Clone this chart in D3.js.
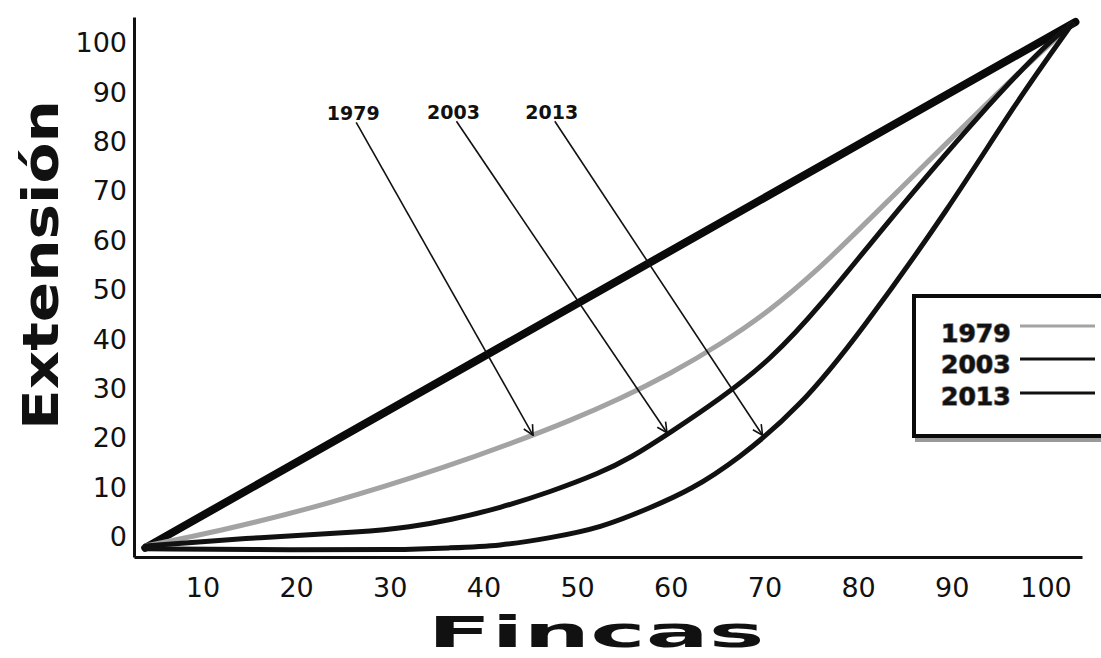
<!DOCTYPE html>
<html>
<head>
<meta charset="utf-8">
<script src="https://cdn.jsdelivr.net/npm/d3@7"></script>
<style>
  html, body { margin: 0; padding: 0; background: #fff; }
  svg { display: block; }
</style>
</head>
<body>
<div id="chart"></div>
<script>
// ---- data (axis units) ----
const xTicks = [10, 20, 30, 40, 50, 60, 70, 80, 90, 100];
const yTicks = [0, 10, 20, 30, 40, 50, 60, 70, 80, 90, 100];

const equalityX = [3.9, 103.2];
const equalityY = [-2.2, 104.3];

const x1979 = [3.9, 11.2, 23.6, 36.4, 43.9, 49.3, 54.6, 59.9, 65.3, 70.6, 75.9, 79.1, 89.8, 96.8, 102.8];
const y1979 = [-1.8, 0.9, 6.7, 14.4, 19.6, 23.6, 28.0, 33.0, 39.0, 45.8, 54.5, 60.4, 80.4, 93.5, 103.8];

const x2003 = [3.9, 16.5, 27.2, 32.2, 36.4, 41.8, 47.1, 52.5, 55.7, 59.9, 65.3, 70.6, 75.9, 82.7, 93.3, 100.5, 102.8];
const y2003 = [-1.8, 0.0, 1.0, 2.0, 3.4, 5.9, 9.1, 13.0, 16.0, 21.1, 28.0, 35.8, 46.6, 62.8, 86.4, 100.6, 103.8];

const x2013 = [3.9, 20.4, 31.1, 36.4, 41.8, 47.1, 52.5, 57.8, 62.1, 67.1, 73.8, 80.2, 89.8, 96.8, 102.8];
const y2013 = [-2.4, -2.6, -2.6, -2.2, -1.8, -0.2, 1.8, 5.9, 9.5, 15.6, 26.3, 41.3, 66.8, 87.9, 103.8];

const seriesNames = ["1979", "2003", "2013"];
const seriesColors = ["#a3a3a3", "#111111", "#111111"];

// annotation labels and arrow tips
const annLabels = ["1979", "2003", "2013"];
const annLabelX = [26.1, 36.8, 47.3];
const annLabelY = [85.8, 86.0, 86.0];
const annTipX = [45.3, 59.6, 69.8];
const annTipY = [20.6, 21.1, 20.6];

// ---- chart ----
const W = 1101, H = 658;
const svg = d3.select("#chart").append("svg").attr("width", W).attr("height", H);

const x = d3.scaleLinear().domain([2.7, 103.9]).range([134, 1082]);
const y = d3.scaleLinear().domain([-4.05, 105.3]).range([557, 17]);

const defs = svg.append("defs");
defs.append("marker")
  .attr("id", "arrow")
  .attr("viewBox", "0 0 12 12")
  .attr("refX", 11).attr("refY", 6)
  .attr("markerWidth", 12).attr("markerHeight", 12)
  .attr("markerUnits", "userSpaceOnUse")
  .attr("orient", "auto")
  .append("path")
  .attr("d", "M1,1 L11,6 L1,11")
  .attr("fill", "none").attr("stroke", "#111").attr("stroke-width", 1.6);

// axes
const xAxis = d3.axisBottom(x).tickValues(xTicks).tickSize(0).tickPadding(21);
const yAxis = d3.axisLeft(y).tickValues(yTicks).tickSize(0).tickPadding(7);

const gx = svg.append("g").attr("transform", `translate(0,${y.range()[0]})`).call(xAxis);
const gy = svg.append("g").attr("transform", `translate(${x.range()[0]},0)`).call(yAxis);
[gx, gy].forEach(g => {
  g.select(".domain").attr("stroke", "#111").attr("stroke-width", 3);
  g.selectAll("text")
    .attr("font-family", "DejaVu Sans, Verdana, sans-serif")
    .attr("font-size", 27)
    .attr("fill", "#111");
});

// lines
const line = d3.line().x(d => x(d[0])).y(d => y(d[1])).curve(d3.curveBasis);

svg.append("path")
  .datum(equalityX.map((v, i) => [v, equalityY[i]]))
  .attr("d", d3.line().x(d => x(d[0])).y(d => y(d[1])))
  .attr("fill", "none").attr("stroke", "#0a0a0a").attr("stroke-width", 8)
  .attr("stroke-linecap", "round");

const seriesX = [x1979, x2003, x2013];
const seriesY = [y1979, y2003, y2013];
seriesNames.forEach((name, k) => {
  svg.append("path")
    .datum(seriesX[k].map((v, i) => [v, seriesY[k][i]]))
    .attr("d", line)
    .attr("fill", "none")
    .attr("stroke", seriesColors[k])
    .attr("stroke-width", 5)
    .attr("stroke-linecap", "round");
});

// annotations
annLabels.forEach((lab, i) => {
  svg.append("text")
    .attr("x", x(annLabelX[i])).attr("y", y(annLabelY[i]) + 7)
    .attr("text-anchor", "middle")
    .attr("font-family", "DejaVu Sans, Verdana, sans-serif")
    .attr("font-weight", "bold")
    .attr("font-size", 19)
    .attr("fill", "#111")
    .text(lab);
  svg.append("line")
    .attr("x1", x(annLabelX[i]) + 3).attr("y1", y(annLabelY[i]) + 9)
    .attr("x2", x(annTipX[i])).attr("y2", y(annTipY[i]))
    .attr("stroke", "#111").attr("stroke-width", 1.6)
    .attr("marker-end", "url(#arrow)");
});

// axis titles
svg.append("text")
  .attr("transform", "translate(58,265) rotate(-90)")
  .attr("text-anchor", "middle")
  .attr("font-family", "DejaVu Sans, Verdana, sans-serif")
  .attr("font-weight", "bold")
  .attr("font-size", 50)
  .attr("textLength", 330)
  .attr("lengthAdjust", "spacingAndGlyphs")
  .attr("fill", "#111")
  .text("Extensión");

svg.append("text")
  .attr("x", 596).attr("y", 647)
  .attr("text-anchor", "middle")
  .attr("font-family", "DejaVu Sans, Verdana, sans-serif")
  .attr("font-weight", "bold")
  .attr("font-size", 43)
  .attr("textLength", 337)
  .attr("lengthAdjust", "spacingAndGlyphs")
  .attr("fill", "#111")
  .text("Fincas");

// legend
const lg = svg.append("g");
lg.append("rect")
  .attr("x", 917).attr("y", 299).attr("width", 200).attr("height", 141)
  .attr("fill", "none").attr("stroke", "#999").attr("stroke-width", 4);
lg.append("rect")
  .attr("x", 914).attr("y", 296).attr("width", 200).attr("height", 140)
  .attr("fill", "#fff").attr("stroke", "#0a0a0a").attr("stroke-width", 4);
const legBase = [342, 373, 405];
const legLineY = [326, 359, 393];
seriesNames.forEach((name, k) => {
  lg.append("text")
    .attr("x", 941).attr("y", legBase[k])
    .attr("font-family", "DejaVu Sans, Verdana, sans-serif")
    .attr("font-weight", "bold")
    .attr("font-size", 25)
    .attr("fill", "#111")
    .attr("stroke", "#888").attr("stroke-width", 1.5)
    .attr("paint-order", "stroke")
    .text(name);
  lg.append("line")
    .attr("x1", 1020).attr("x2", 1095)
    .attr("y1", legLineY[k]).attr("y2", legLineY[k])
    .attr("stroke", seriesColors[k]).attr("stroke-width", 3);
});
</script>
</body>
</html>
